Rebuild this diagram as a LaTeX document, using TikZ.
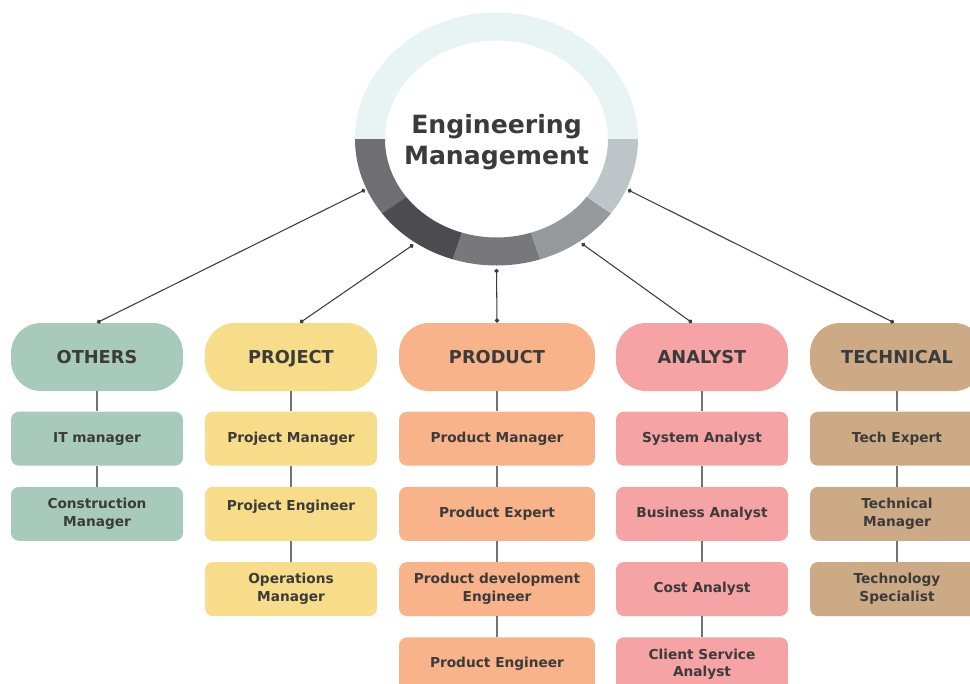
\documentclass[tikz,border=0pt]{standalone}
\usepackage{fontspec}
\setmainfont{DejaVu Sans}
\usetikzlibrary{arrows.meta, positioning, shapes.geometric}
\definecolor{inkc}{HTML}{3B3B3B}
\definecolor{othersc}{HTML}{A8CABD}
\definecolor{projectc}{HTML}{F7DC8A}
\definecolor{productc}{HTML}{F8B38A}
\definecolor{analystc}{HTML}{F5A3A4}
\definecolor{techc}{HTML}{CDAA86}
\definecolor{ringtop}{HTML}{E8F3F4}
\definecolor{ringa}{HTML}{6F6F73}
\definecolor{ringb}{HTML}{4C4C50}
\definecolor{ringc}{HTML}{78787C}
\definecolor{ringd}{HTML}{95999C}
\definecolor{ringe}{HTML}{BEC5C8}
\tikzset{
    header/.style={rectangle, rounded corners=0.6cm, minimum width=3.44cm, minimum height=1.36cm, text height=1.6ex, text depth=0.2ex, align=center, text=inkc, font=\bfseries\fontsize{10.1}{11}\selectfont},
    role/.style={rectangle, rounded corners=0.16cm, minimum width=3.44cm, minimum height=1.08cm, inner sep=1pt, align=center, text=inkc, font=\bfseries\fontsize{7.8}{10.2}\selectfont},
    hub/.style={ellipse, minimum width=5.66cm, minimum height=5.06cm, align=center, text=inkc, font=\bfseries\fontsize{14.3}{17.6}\selectfont},
    link/.style={draw=gray!90!black, line width=0.85pt},
    spoke/.style={draw=inkc, line width=0.6pt, {Circle[length=2.4pt]}-{Circle[length=2.4pt]}}
}

\begin{document}
\begin{tikzpicture}[x=0.02cm, y=0.02cm, node distance=0.41cm]
    \useasboundingbox (0,0) rectangle (970,-683);
    \clip (0,0) rectangle (970,-683);

    % ring round the title
    \coordinate (centre) at (496.5,-139);
    \foreach \from/\to/\col in {0/180/ringtop, 180/216/ringa, 216/252/ringb, 252/288/ringc, 288/324/ringd, 324/360/ringe}
        \fill[\col, shift={(centre)}] (\from:141.5 and 126.5)
            arc[start angle=\from, end angle=\to, x radius=141.5, y radius=126.5]
            -- (\to:111.5 and 98.5)
            arc[start angle=\to, end angle=\from, x radius=111.5, y radius=98.5] -- cycle;
    \node[hub, yshift=-0.06cm] (em) at (centre) {Engineering\\Management};

    % headers
    \node[header, fill=othersc] (others) at (97,-357) {OTHERS};
    \node[header, fill=projectc] (project) at (291,-357) {PROJECT};
    \node[header, fill=productc, minimum width=3.92cm] (product) at (497,-357) {PRODUCT};
    \node[header, fill=analystc] (analyst) at (702,-357) {ANALYST};
    \node[header, fill=techc, minimum width=3.48cm] (technical) at (897,-357) {TECHNICAL};

    % others column
    \node[role, fill=othersc, below=0.4cm of others] (itman) {IT manager};
    \node[role, fill=othersc, below=of itman] (conman) {Construction\\Manager};

    % project column
    \node[role, fill=projectc, below=0.4cm of project] (projman) {Project Manager};
    \node[role, fill=projectc, below=of projman] (projeng) {Project Engineer\\\mbox{}};
    \node[role, fill=projectc, below=of projeng] (opsman) {Operations\\Manager};

    % product column
    \node[role, fill=productc, minimum width=3.92cm, below=0.4cm of product] (prodman) {Product Manager};
    \node[role, fill=productc, minimum width=3.92cm, below=of prodman] (prodexp) {Product Expert};
    \node[role, fill=productc, minimum width=3.92cm, below=of prodexp] (proddev) {Product development\\Engineer};
    \node[role, fill=productc, minimum width=3.92cm, below=of proddev] (prodeng) {Product Engineer};

    % analyst column
    \node[role, fill=analystc, below=0.4cm of analyst] (sysan) {System Analyst};
    \node[role, fill=analystc, below=of sysan] (busan) {Business Analyst};
    \node[role, fill=analystc, below=of busan] (costan) {Cost Analyst};
    \node[role, fill=analystc, below=of costan] (clientan) {Client Service\\Analyst};

    % technical column
    \node[role, fill=techc, minimum width=3.48cm, below=0.4cm of technical] (techexp) {Tech Expert};
    \node[role, fill=techc, minimum width=3.48cm, below=of techexp] (techman) {Technical\\Manager};
    \node[role, fill=techc, minimum width=3.48cm, below=of techman] (techspec) {Technology\\Specialist};

    % spokes from the ring
    \draw[spoke] (em.200) -- (others.north);
    \draw[spoke] (em.231) -- ([xshift=0.18cm]project.north);
    \draw[spoke] (em.270) -- (product.north);
    \draw[spoke] (em.310) -- ([xshift=-0.2cm]analyst.north);
    \draw[spoke] (em.340) -- ([xshift=-0.06cm]technical.north);

    % column links
    \draw[link] (others) -- (itman);
    \draw[link] (itman) -- (conman);
    \draw[link] (project) -- (projman);
    \draw[link] (projman) -- (projeng);
    \draw[link] (projeng) -- (opsman);
    \draw[link] (product) -- (prodman);
    \draw[link] (prodman) -- (prodexp);
    \draw[link] (prodexp) -- (proddev);
    \draw[link] (proddev) -- (prodeng);
    \draw[link] (analyst) -- (sysan);
    \draw[link] (sysan) -- (busan);
    \draw[link] (busan) -- (costan);
    \draw[link] (costan) -- (clientan);
    \draw[link] (technical) -- (techexp);
    \draw[link] (techexp) -- (techman);
    \draw[link] (techman) -- (techspec);
\end{tikzpicture}
\end{document}
